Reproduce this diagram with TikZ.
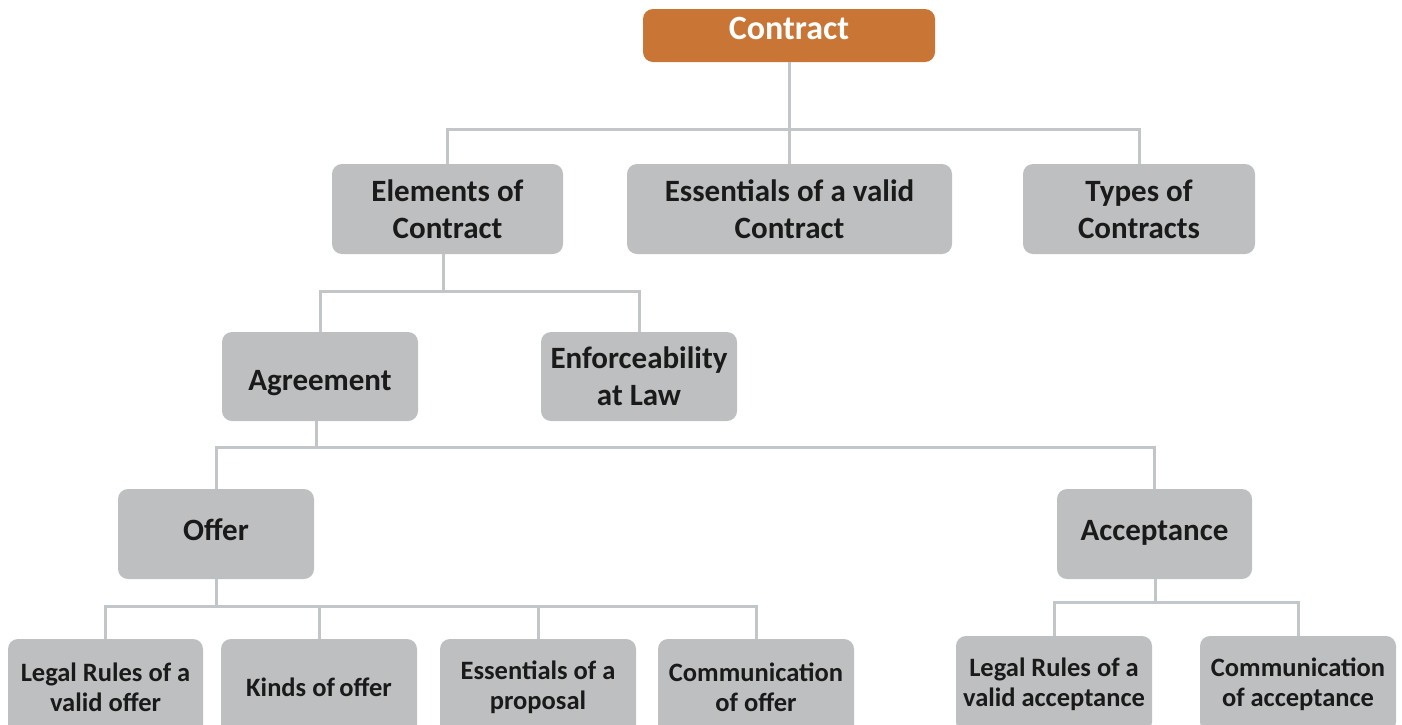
\documentclass[tikz,border=0pt]{standalone}
\usepackage{fontspec}
\setmainfont{Carlito}
\definecolor{boxgray}{HTML}{BDBFC1}
\definecolor{linegray}{HTML}{C3C6C9}
\definecolor{topor}{HTML}{C97535}
\definecolor{txt}{HTML}{1A1A1A}
\newcommand{\lowtext}[2]{\raisebox{-#1}[0pt][0pt]{#2}}
\begin{document}
\begin{tikzpicture}[x=1pt,y=-1pt,
  gbox/.style={fill=boxgray, rounded corners=10pt, inner sep=0pt, align=center, text=txt,
     font=\bfseries\fontsize{31}{37}\selectfont},
  sbox/.style={gbox, font=\bfseries\fontsize{26.5}{30}\selectfont},
  conn/.style={draw=linegray, line width=3pt}]
\useasboundingbox (0,0) rectangle (1402,724);
\clip (0,0) rectangle (1402,724);
% level 0
\node[fill=topor, rounded corners=10pt, minimum width=292pt, minimum height=53pt, text=white,
  inner sep=0pt, font=\bfseries\fontsize{34}{40}\selectfont] (contract) at (789,35.5) {\lowtext{4pt}{Contract}};
% level 1
\node[gbox, minimum width=231pt, minimum height=90pt] (elem) at (447.5,209) {Elements of\\Contract};
\node[gbox, minimum width=325pt, minimum height=90pt] (ess) at (789.5,209) {Essentials of a valid\\Contract};
\node[gbox, minimum width=232pt, minimum height=90pt] (types) at (1139,209) {Types of\\Contracts};
% level 2
\node[gbox, minimum width=196pt, minimum height=89pt] (agr) at (320,376.5) {\lowtext{13.5pt}{Agreement}};
\node[gbox, minimum width=196pt, minimum height=89pt] (enf) at (639,376.5) {Enforceability\\at Law};
% level 3
\node[gbox, minimum width=196pt, minimum height=90pt] (offer) at (216,534) {\lowtext{6pt}{Offer}};
\node[gbox, minimum width=195pt, minimum height=90pt] (acc) at (1154.5,534) {\lowtext{6pt}{Acceptance}};
% level 4
\node[sbox, minimum width=195pt, minimum height=96pt] (o1) at (105.5,687) {Legal Rules of a\\valid offer};
\node[sbox, minimum width=196pt, minimum height=96pt] (o2) at (319,687) {\lowtext{9.5pt}{Kinds of\,offer}};
\node[sbox, minimum width=196pt, minimum height=96pt] (o3) at (538,687) {Essentials of a\\proposal};
\node[sbox, minimum width=196pt, minimum height=96pt] (o4) at (756,687) {Communication\\of offer};
\node[sbox, minimum width=196pt, minimum height=96pt] (a1) at (1054,684) {Legal Rules of a\\valid acceptance};
\node[sbox, minimum width=196pt, minimum height=96pt] (a2) at (1298,684) {Communication\\of acceptance};
% junctions
\coordinate (j0) at (789,129);
\coordinate (j1) at (443,291);
\coordinate (j2) at (316,447);
\coordinate (j3) at (216,606);
\coordinate (j4) at (1155,602);
% connectors
\draw[conn] (contract.south) -- (j0);
\draw[conn] (elem.north) |- (j0) -| (types.north);
\draw[conn] (ess.north) -- (ess.north |- j0);
\draw[conn] (elem.south -| j1) -- (j1);
\draw[conn] (agr.north) |- (j1) -| (enf.north);
\draw[conn] (agr.south -| j2) -- (j2);
\draw[conn] (offer.north) |- (j2) -| (acc.north);
\draw[conn] (offer.south) -- (j3);
\draw[conn] (o1.north) |- (j3) -| (o4.north);
\draw[conn] (o2.north) -- (o2.north |- j3);
\draw[conn] (o3.north) -- (o3.north |- j3);
\draw[conn] (acc.south -| j4) -- (j4);
\draw[conn] (a1.north) |- (j4) -| (a2.north);
\end{tikzpicture}
\end{document}
